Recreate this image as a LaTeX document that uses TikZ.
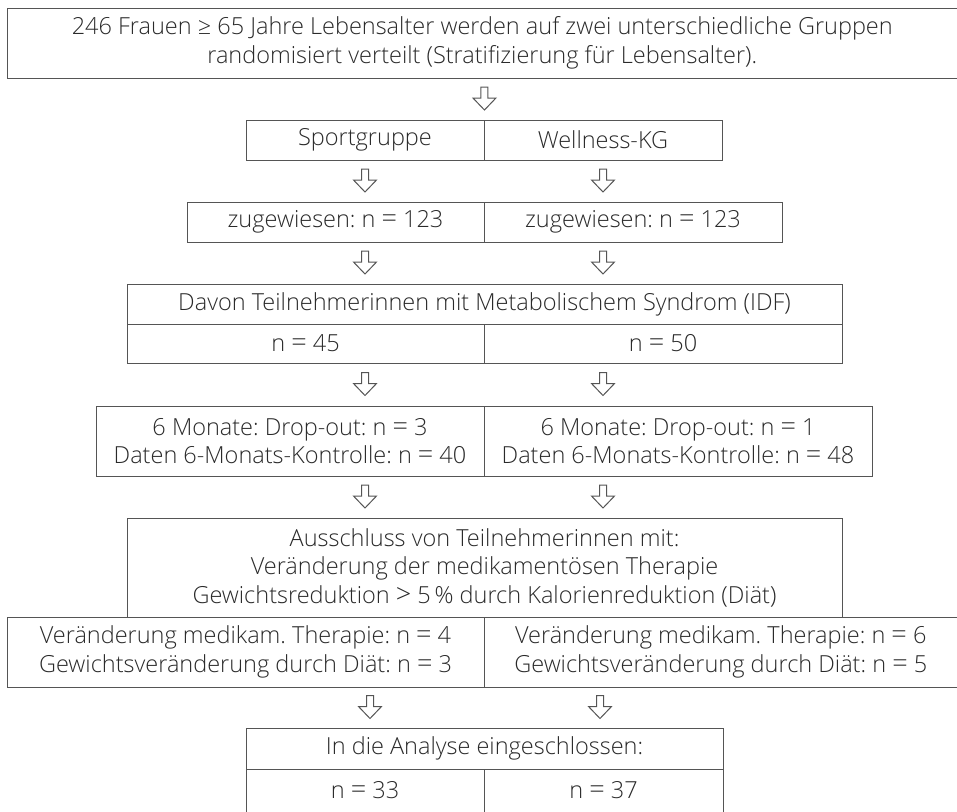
\documentclass[tikz,border=0pt]{standalone}
\usepackage{fontspec}
\setmainfont{Open Sans Light}
\usetikzlibrary{calc}
\definecolor{linegray}{HTML}{555555}
\definecolor{textgray}{HTML}{2a2a2a}
\newcommand\eq{{\fontsize{27}{28}\selectfont=}}
\tikzset{
  cell/.style={draw=linegray, line width=0.9pt, text=textgray, inner sep=0pt,
    align=center, font=\fontsize{23.5}{28.5}\selectfont\frenchspacing},
  harrow/.pic={\draw[linegray, line width=1pt, line join=miter]
    (-3.5,-12) -- (3.5,-12) -- (3.5,-1) -- (11.5,-1) -- (0,11) -- (-11.5,-1) -- (-3.5,-1) -- cycle;}
}
\newcommand\cellbox[6]{\node[cell, minimum width={#4-#2}, minimum height={#5-#3}] (#1) at ({(#2+#4)/2},{(#3+#5)/2}) {#6};}
\newcommand\harr[3]{\path ($(#1.south -| #3)!0.5!(#2.north -| #3)$) pic {harrow};}
\begin{document}
\begin{tikzpicture}[x=1pt,y=-1pt]
\useasboundingbox (0,0) rectangle (957,811);
\cellbox{top}{7}{8}{957.5}{78}{246 Frauen ≥ 65 Jahre Lebensalter werden auf zwei unterschiedliche Gruppen\\randomisiert verteilt (Stratifizierung für Lebensalter).}
\cellbox{sport}{246}{120}{484}{160}{Sportgruppe}
\cellbox{well}{484}{120}{722}{160}{Wellness-KG}
\cellbox{zl}{187}{202}{484}{242}{zugewiesen: n \eq{} 123}
\cellbox{zr}{484}{202}{782}{242}{zugewiesen: n \eq{} 123}
\cellbox{davon}{127}{284}{842}{324}{Davon Teilnehmerinnen mit Metabolischem Syndrom (IDF)}
\cellbox{nl}{127}{324}{484}{363}{n \eq{} 45}
\cellbox{nr}{484}{324}{842}{363}{n \eq{} 50}
\cellbox{ml}{96}{406}{484}{476}{6 Monate: Drop-out: n \eq{} 3\\Daten 6-Monats-Kontrolle: n \eq{} 40}
\cellbox{mr}{484}{406}{872}{476}{6 Monate: Drop-out: n \eq{} 1\\Daten 6-Monats-Kontrolle: n \eq{} 48}
\cellbox{aus}{127}{518}{842}{617}{Ausschluss von Teilnehmerinnen mit:\\Veränderung der medikamentösen Therapie\\Gewichtsreduktion {\fontsize{27}{28}\selectfont>} 5\,\% durch Kalorienreduktion (Diät)}
\cellbox{vl}{7}{617}{484}{687}{Veränderung medikam. Therapie: n \eq{} 4\\Gewichtsveränderung durch Diät: n \eq{} 3}
\cellbox{vr}{484}{617}{957.5}{687}{Veränderung medikam. Therapie: n \eq{} 6\\Gewichtsveränderung durch Diät: n \eq{} 5}
\cellbox{fin}{246}{728}{723}{769}{In die Analyse eingeschlossen:}
\cellbox{fl}{246}{769}{484}{812}{n \eq{} 33}
\cellbox{fr}{484}{769}{723}{812}{n \eq{} 37}
\coordinate (colL) at (sport.south);
\coordinate (colR) at (well.south);
\coordinate (colM) at (sport.south east);
\coordinate (colL2) at (370,0);
\coordinate (colR2) at (600,0);
\harr{top}{sport}{colM}
\harr{sport}{zl}{colL}
\harr{well}{zr}{colR}
\harr{zl}{davon}{colL}
\harr{zr}{davon}{colR}
\harr{nl}{ml}{colL}
\harr{nr}{mr}{colR}
\harr{ml}{aus}{colL}
\harr{mr}{aus}{colR}
\harr{vl}{fin}{colL2}
\harr{vr}{fin}{colR2}
\end{tikzpicture}
\end{document}
